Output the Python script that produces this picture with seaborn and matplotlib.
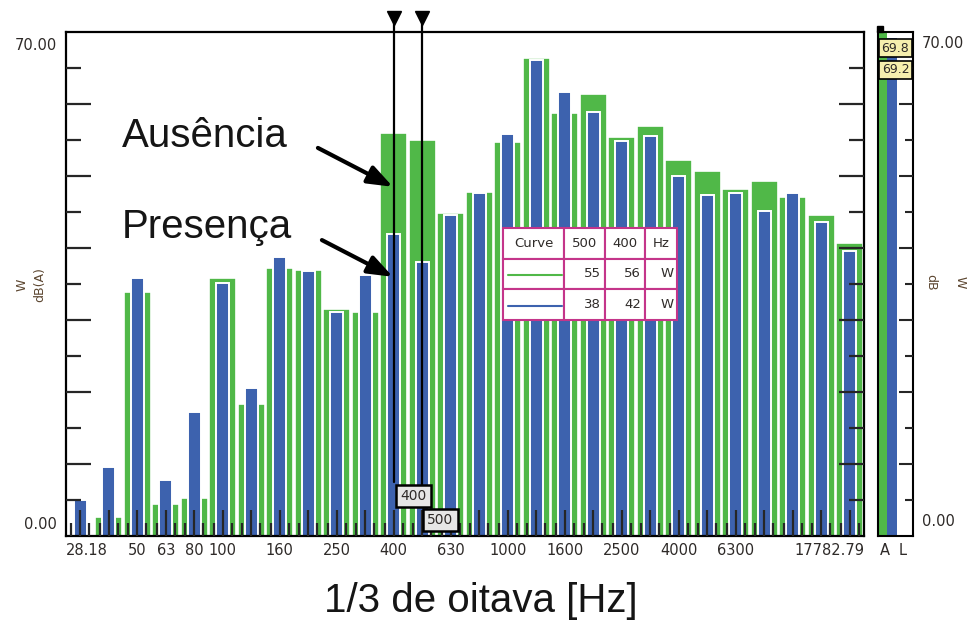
import matplotlib
matplotlib.use("Agg")
import matplotlib.pyplot as plt
import seaborn as sns
import pandas as pd
from matplotlib import transforms
from matplotlib.ticker import FixedLocator

# 1/3 octave bands, 31.5 Hz .. 16 kHz
bands = ["31.5", "40", "50", "63", "80", "100", "125", "160", "200", "250",
         "315", "400", "500", "630", "800", "1000", "1250", "1600", "2000",
         "2500", "3150", "4000", "5000", "6300", "8000", "10000", "12500", "16000"]

# green curve (Ausencia) and blue curve (Presenca), dB(A)
ausencia = [0.0, 2.6, 33.9, 4.4, 5.3, 35.8, 18.3, 37.2, 36.9, 31.5,
            31.1, 56.0, 55.0, 44.9, 47.8, 54.7, 66.4, 58.8, 61.4,
            55.4, 56.9, 52.2, 50.7, 48.2, 49.3, 47.1, 44.6, 40.7]
presenca = [5.0, 9.6, 35.8, 7.8, 17.2, 35.1, 20.6, 38.8, 36.8, 31.1,
            36.3, 42.0, 38.0, 44.6, 47.7, 55.8, 66.1, 61.7, 58.9,
            54.9, 55.6, 50.0, 47.4, 47.7, 45.1, 47.6, 43.6, 39.6]

labelled = ["50", "63", "80", "100", "160", "250", "400", "630",
            "1000", "1600", "2500", "4000", "6300"]
edge_labels = ["28.18", "17782.79"]

total_names = ["A", "L"]
total_values = [69.8, 69.2]

cursor_bands = ["500", "400"]

GREEN = "#50b848"
BLUE = "#3d62ae"
MAGENTA = "#c4358a"
TXT = "#2e2a28"
BIG = ["Liberation Sans", "DejaVu Sans"]


def draw_bars(ax, df):
    sns.barplot(data=df, x="band", y="ausencia", order=bands, color=GREEN,
                width=0.94, saturation=1, edgecolor="white", linewidth=1.2,
                errorbar=None, ax=ax, zorder=1)
    sns.barplot(data=df, x="band", y="presenca", order=bands, color=BLUE,
                width=0.46, saturation=1, edgecolor="white", linewidth=1.4,
                errorbar=None, ax=ax, zorder=2)


def style_main(ax):
    n = len(bands)
    ax.set_xlim(-0.5, n - 0.5)
    ax.set_ylim(0, 70)
    ax.set_xlabel("")
    ax.set_ylabel("")
    ax.set_axisbelow(False)

    ax.set_xticks(range(n))
    ax.set_xticklabels([b if b in labelled else "" for b in bands])
    ax.xaxis.set_minor_locator(FixedLocator([i + d for i in range(n) for d in (-0.32, 0.32)]))
    ax.tick_params(axis="x", which="major", direction="in", length=19, width=1.6,
                   pad=5, labelsize=10.5, labelcolor=TXT, bottom=True)
    ax.tick_params(axis="x", which="minor", direction="in", length=9.5, width=1.6, bottom=True)

    ax.set_yticks(range(10, 70, 10))
    ax.yaxis.set_minor_locator(FixedLocator(list(range(5, 70, 10))))
    ax.tick_params(axis="y", which="major", direction="in", length=18, width=1.6,
                   left=True, right=True, labelleft=False)
    ax.tick_params(axis="y", which="minor", direction="in", length=11, width=1.6,
                   left=True, right=True)
    for s in ax.spines.values():
        s.set_visible(True)
        s.set_linewidth(1.6)
        s.set_color("black")

    xt = transforms.blended_transform_factory(ax.transData, ax.transAxes)
    ax.annotate(edge_labels[0], xy=(-0.5, 0), xycoords=xt, xytext=(0, -5),
                textcoords="offset points", ha="left", va="top", fontsize=10.5, color=TXT)
    ax.annotate(edge_labels[1], xy=(n - 0.5, 0), xycoords=xt, xytext=(0, -5),
                textcoords="offset points", ha="right", va="top", fontsize=10.5, color=TXT)

    yt = transforms.blended_transform_factory(ax.transAxes, ax.transData)
    ax.annotate("70.00", xy=(0, 70), xycoords=yt, xytext=(-6.5, -4),
                textcoords="offset points", ha="right", va="top", fontsize=10.5, color=TXT)
    ax.annotate("0.00", xy=(0, 0), xycoords=yt, xytext=(-6.5, 3),
                textcoords="offset points", ha="right", va="bottom", fontsize=10.5, color=TXT)


def draw_cursors(ax):
    stops = {"400": 7.5, "500": 4.0}
    box_pos = {"400": (0.69, 5.6), "500": (0.64, 2.2)}
    for b in cursor_bands:
        i = bands.index(b)
        ax.plot([i, i], [stops[b], 71.6], color="black", lw=1.6, clip_on=False, zorder=4)
        ax.plot(i, 71.9, marker="v", ms=10, color="black", clip_on=False, zorder=4)
        dx, y = box_pos[b]
        ax.text(i + dx, y, b, ha="center", va="center", fontsize=10, color=TXT, zorder=6,
                bbox=dict(boxstyle="square,pad=0.3", fc="#e6e6e6", ec="black", lw=1.8))


def draw_notes(ax):
    ax.text(1.46, 54.0, "Ausência", fontsize=29, family=BIG, va="baseline", color="#151515")
    ax.text(1.46, 41.4, "Presença", fontsize=29, family=BIG, va="baseline", color="#151515")
    arrow = dict(arrowstyle="-|>,head_length=0.75,head_width=0.28", lw=3, color="black",
                 shrinkA=0, shrinkB=0, mutation_scale=20)
    ax.annotate("", xy=(10.97, 48.5), xytext=(8.34, 53.9), arrowprops=arrow, zorder=5)
    ax.annotate("", xy=(10.97, 36.0), xytext=(8.48, 41.1), arrowprops=arrow, zorder=5)


def draw_table(ax):
    i500 = bands.index("500")
    i400 = bands.index("400")
    rows = [["", f"{ausencia[i500]:.0f}", f"{ausencia[i400]:.0f}", "W"],
            ["", f"{presenca[i500]:.0f}", f"{presenca[i400]:.0f}", "W"]]
    widths = [61, 41, 40, 32]
    tbl = ax.table(cellText=rows, colLabels=["Curve", "500", "400", "Hz"],
                   colWidths=[w / sum(widths) for w in widths],
                   bbox=[0.5476, 0.4286, 0.2181, 0.1825],
                   cellLoc="right", colLoc="center")
    tbl.auto_set_font_size(False)
    tbl.set_fontsize(9.5)
    for cell in tbl.get_celld().values():
        cell.set_edgecolor(MAGENTA)
        cell.set_linewidth(1.5)
        cell.set_facecolor("white")
        cell.get_text().set_color(TXT)
    tbl.set_zorder(5)
    ax.plot([0.554, 0.6216], [0.518, 0.518], transform=ax.transAxes, color=GREEN, lw=1.5, zorder=6)
    ax.plot([0.554, 0.6216], [0.456, 0.456], transform=ax.transAxes, color=BLUE, lw=1.5, zorder=6)


def draw_totals(ax2):
    sns.barplot(x=total_names, y=total_values, hue=total_names, palette=[GREEN, BLUE],
                width=1.0, saturation=1, linewidth=0, legend=False, ax=ax2)
    ax2.set_xlim(-0.5, 3.2)
    ax2.set_ylim(0, 70)
    ax2.set_xticks([])
    ax2.set_xlabel("")
    ax2.set_ylabel("")
    ax2.set_yticks(range(10, 70, 10))
    ax2.yaxis.set_minor_locator(FixedLocator(list(range(5, 70, 10))))
    ax2.tick_params(axis="y", which="major", direction="in", length=10, width=1.5,
                    left=False, right=True, labelleft=False)
    ax2.tick_params(axis="y", which="minor", direction="in", length=6, width=1.5,
                    left=False, right=True)
    for s in ax2.spines.values():
        s.set_visible(True)
        s.set_linewidth(1.5)
        s.set_color("black")
    ax2.set_axisbelow(False)
    for frac, name in zip([0.2, 0.69], total_names):
        ax2.annotate(name, xy=(frac, 0), xycoords="axes fraction", xytext=(0, -5),
                     textcoords="offset points", ha="center", va="top", fontsize=10.5, color=TXT)
    for y, v in zip([0.968, 0.925], total_values):
        ax2.text(0.5, y, f"{v:.1f}", transform=ax2.transAxes, ha="center", va="center",
                 fontsize=9, color=TXT, zorder=5,
                 bbox=dict(boxstyle="square,pad=0.2", fc="#f6efae", ec="black", lw=1.2))
    ax2.plot(-0.3, 70.4, marker="s", ms=4, color="black", clip_on=False)


def main():
    sns.set_theme(style="white")
    plt.rcParams["font.family"] = ["DejaVu Sans"]

    fig = plt.figure(figsize=(9.7, 6.21), dpi=100)
    bottom = 85 / 621
    height = 504 / 621
    ax = fig.add_axes([66 / 970, bottom, 798 / 970, height])
    ax2 = fig.add_axes([878 / 970, bottom, 35 / 970, height])

    df = pd.DataFrame({"band": bands, "ausencia": ausencia, "presenca": presenca})
    draw_bars(ax, df)
    style_main(ax)
    draw_cursors(ax)
    draw_notes(ax)
    draw_table(ax)
    draw_totals(ax2)

    # side labels
    fig.text(22 / 970, 1 - 285 / 621, "W", rotation=90, ha="center", va="center", fontsize=9, color="#5c4630")
    fig.text(40 / 970, 1 - 285 / 621, "dB(A)", rotation=90, ha="center", va="center", fontsize=9, color="#5c4630")
    fig.text(922 / 970, 1 - 43 / 621, "70.00", ha="left", va="center", fontsize=10.5, color=TXT)
    fig.text(922 / 970, 1 - 522 / 621, "0.00", ha="left", va="center", fontsize=10.5, color=TXT)
    fig.text(931 / 970, 1 - 282 / 621, "dB", rotation=270, ha="center", va="center", fontsize=9, color="#5c4630")
    fig.text(960 / 970, 1 - 282 / 621, "W", rotation=270, ha="center", va="center", fontsize=9, color="#5c4630")

    fig.text(481 / 970, 1 - 601 / 621, "1/3 de oitava [Hz]", ha="center", va="center",
             fontsize=29, family=BIG, color="#151515")

    fig.savefig("out.png", dpi=100)


if __name__ == "__main__":
    main()
